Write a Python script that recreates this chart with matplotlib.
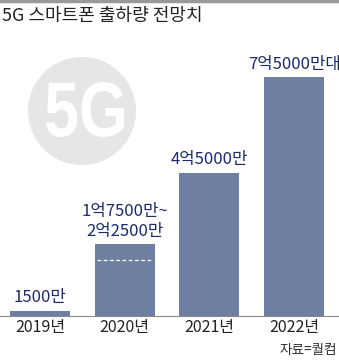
import matplotlib
matplotlib.use('Agg')
import matplotlib.pyplot as plt
from matplotlib.patches import Circle, PathPatch
from matplotlib.lines import Line2D
from matplotlib.textpath import TextPath
from matplotlib.font_manager import FontProperties
from matplotlib.transforms import Affine2D

plt.rcParams['font.family'] = ['Noto Sans CJK KR', 'DejaVu Sans']

# ── 데이터 (단위: 만 대) ───────────────────────────────────────────── #
years = ['2019년', '2020년', '2021년', '2022년']
shipments = [1500, 22500, 45000, 75000]
range_low = 17500            # 2020년 전망 하단
value_labels = ['1500만', '1억7500만~\n2억2500만', '4억5000만', '7억5000만대']

title = '5G 스마트폰 출하량 전망치'
source = '자료=퀄컴'

bar_color = '#6f7fa1'
label_color = '#1c2a6a'

# ── 그림 ─────────────────────────────────────────────────────────── #
fig = plt.figure(figsize=(3.39, 3.6), dpi=100)
fig.patch.set_facecolor('white')

# 상단 회색 띠
fig.add_artist(Line2D([0, 1], [0.997, 0.997], transform=fig.transFigure,
                      color='#999999', linewidth=2.5))

# 배경 5G 원 (글자는 폭을 좁혀 경로로 그림)
fig.add_artist(Circle((0.82, 2.49), 0.54, transform=fig.dpi_scale_trans,
                      facecolor='#e6e6e6', edgecolor='none', zorder=0))
tp = TextPath((0, 0), '5G', size=1,
              prop=FontProperties(family='Liberation Sans', weight='bold'))
ext = tp.get_extents()
box_x0, box_x1, box_y0, box_y1 = 0.46, 1.24, 2.23, 2.78
sx = (box_x1 - box_x0) / ext.width
sy = (box_y1 - box_y0) / ext.height
logo_tr = (Affine2D().translate(-ext.x0, -ext.y0).scale(sx, sy)
           .translate(box_x0, box_y0) + fig.dpi_scale_trans)
fig.add_artist(PathPatch(tp, transform=logo_tr, facecolor='white',
                         edgecolor='none', zorder=1))

ax = fig.add_axes([0, 44 / 360, 1, 316 / 360])
ax.set_facecolor('none')
x = range(len(years))
ax.bar(x, shipments, width=0.71, color=bar_color, zorder=2)

# 2020년 범위 하단 점선
ax.hlines(range_low, 1 - 0.33, 1 + 0.33, colors='white',
          linestyles=(0, (3, 2)), linewidth=0.9, zorder=3)

for i, (v, lbl) in enumerate(zip(shipments, value_labels)):
    ax.text(i, v + 1500, lbl, ha='center', va='bottom', fontsize=12,
            color=label_color, linespacing=1.2)

ax.set_xlim(-0.472, 3.53)
ax.set_ylim(0, 99370)
for s in ['top', 'right', 'left']:
    ax.spines[s].set_visible(False)
ax.spines['bottom'].set_color('#888888')
ax.spines['bottom'].set_linewidth(0.8)
ax.set_yticks([])
ax.set_xticks(list(x))
ax.set_xticklabels(years, fontsize=11.5, color='#222222')
ax.tick_params(axis='x', length=0, pad=2)

fig.text(0.006, 0.955, title, ha='left', va='center', fontsize=13,
         color='#222222')
fig.text(0.995, 0.027, source, ha='right', va='center', fontsize=9.8,
         color='#333333')

fig.savefig('out.png', dpi=100)
